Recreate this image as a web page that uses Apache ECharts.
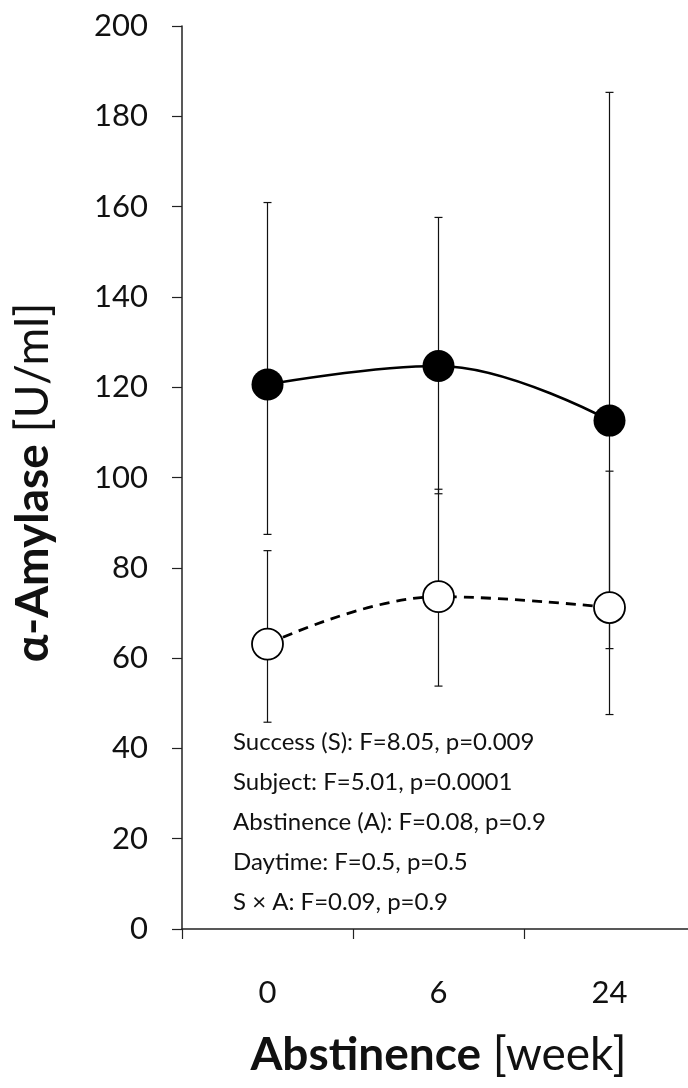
<!DOCTYPE html>
<html>
<head>
<meta charset="utf-8">
<script src="https://cdn.jsdelivr.net/npm/echarts@6/dist/echarts.min.js"></script>
<style>
html, body { margin: 0; padding: 0; background: #fff; }
#chart { width: 688px; height: 1088px; }
</style>
</head>
<body>
<div id="chart"></div>
<script>
const categories = ['0', '6', '24']
// filled circles, solid line
const filledMean = [120.6, 124.7, 112.6]
const filledHigh = [160.9, 157.6, 185.3]
const filledLow = [87.4, 96.4, 62.1]
// open circles, dashed line
const openMean = [63.1, 73.6, 71.2]
const openHigh = [83.8, 97.4, 101.4]
const openLow = [45.8, 53.8, 47.5]
const yTicks = [0, 20, 40, 60, 80, 100, 120, 140, 160, 180, 200]
const statLines = [
    'Success (S): F=8.05, p=0.009',
    'Subject: F=5.01, p=0.0001',
    'Abstinence (A): F=0.08, p=0.9',
    'Daytime: F=0.5, p=0.5',
    'S \u00d7 A: F=0.09, p=0.9',
]

const FONT = 'Lato'
const chart = echarts.init(document.getElementById('chart'))

const errorBars = (lows, highs) => categories.map((c, i) => [i, lows[i], highs[i]])
const renderError = (params, api) => {
    const lo = api.coord([api.value(0), api.value(1)])
    const hi = api.coord([api.value(0), api.value(2)])
    const w = 4
    const style = { stroke: '#111', lineWidth: 1.2 }
    return {
        type: 'group',
        children: [
            { type: 'line', shape: { x1: hi[0], y1: hi[1], x2: lo[0], y2: lo[1] }, style },
            { type: 'line', shape: { x1: hi[0] - w, y1: hi[1], x2: hi[0] + w, y2: hi[1] }, style },
            { type: 'line', shape: { x1: lo[0] - w, y1: lo[1], x2: lo[0] + w, y2: lo[1] }, style },
        ],
    }
}

const nameRich = {
    b: { fontFamily: FONT, fontWeight: 'bold', fontSize: 46, color: '#111' },
    r: { fontFamily: FONT, fontSize: 46, color: '#111' },
}

const option = {
    backgroundColor: '#fff',
    animation: false,
    grid: { left: 182, top: 26, width: 513, bottom: 159, outerBoundsMode: 'none', containLabel: false },
    xAxis: {
        type: 'category',
        data: categories,
        boundaryGap: true,
        name: '{b|Abstinence}{r| [week]}',
        nameLocation: 'middle',
        nameGap: 103,
        nameTextStyle: { rich: nameRich },
        axisLine: { lineStyle: { color: '#222', width: 1.5 } },
        axisTick: { show: true, inside: false, length: 10, lineStyle: { color: '#222', width: 1.2 } },
        axisLabel: { fontFamily: FONT, fontSize: 31, color: '#111', margin: 48 },
    },
    yAxis: {
        type: 'value',
        min: 0,
        max: 200,
        interval: 20,
        name: '{b|\u03b1-Amylase}{r| [U/ml]}',
        nameLocation: 'middle',
        nameRotate: 90,
        nameGap: 126,
        nameTextStyle: { rich: nameRich, padding: [0, 10, 0, 0] },
        axisLine: { show: true, lineStyle: { color: '#222', width: 1.5 } },
        axisTick: { show: true, inside: false, length: 10, lineStyle: { color: '#222', width: 1.2 } },
        axisLabel: {
            fontFamily: FONT, fontSize: 31, color: '#111', margin: 34,
            formatter: (v) => (yTicks.includes(v) ? String(v) : ''),
        },
        splitLine: { show: false },
    },
    graphic: statLines.map((t, i) => ({
        type: 'text',
        left: 233,
        top: 730 + i * 40,
        style: { text: t, fontFamily: FONT, fontSize: 24, fill: '#111' },
    })),
    series: [
        {
            type: 'line',
            data: filledMean,
            smooth: 0.4,
            symbol: 'none',
            lineStyle: { color: '#000', width: 2.6 },
            z: 2,
        },
        {
            type: 'line',
            data: openMean,
            smooth: 0.4,
            symbol: 'none',
            lineStyle: { color: '#000', width: 2.8, type: [10, 7] },
            z: 2,
        },
        { type: 'custom', data: errorBars(filledLow, filledHigh), renderItem: renderError, z: 3 },
        { type: 'custom', data: errorBars(openLow, openHigh), renderItem: renderError, z: 3 },
        {
            type: 'scatter',
            data: filledMean,
            symbol: 'circle',
            symbolSize: 32,
            itemStyle: { color: '#000', borderColor: '#000', borderWidth: 0, opacity: 1 },
            z: 4,
        },
        {
            type: 'scatter',
            data: openMean,
            symbol: 'circle',
            symbolSize: 31,
            itemStyle: { color: '#fff', borderColor: '#000', borderWidth: 1.8, opacity: 1 },
            z: 4,
        },
    ],
}
chart.setOption(option)
</script>
</body>
</html>
